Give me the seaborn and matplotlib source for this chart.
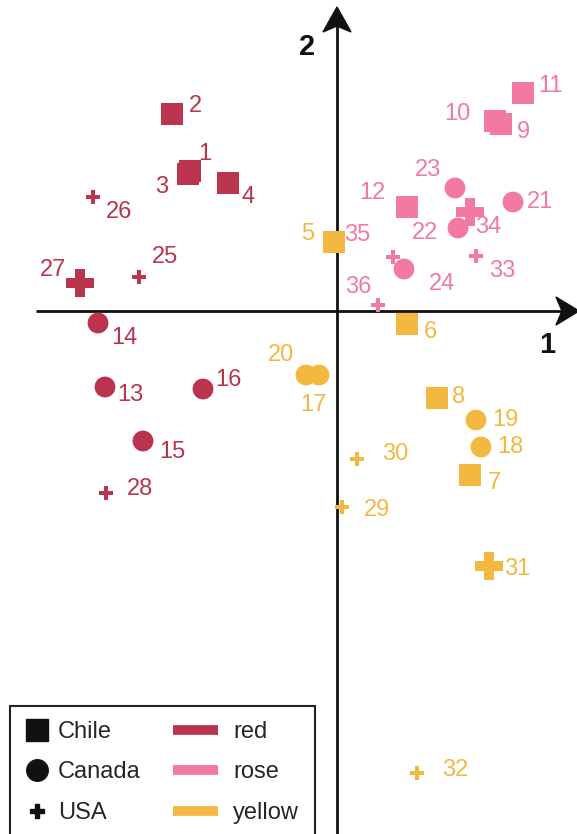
import matplotlib
matplotlib.use('Agg')
import matplotlib.pyplot as plt
from matplotlib.lines import Line2D
from matplotlib.patches import Polygon, Rectangle
import pandas as pd
import seaborn as sns

# wine samples on the first two components
ids = list(range(1, 37))
dim1 = [-1.47, -1.65, -1.49, -1.09, -0.03, 0.70, 1.33, 1.00, 1.64, 1.58, 1.86, 0.70,
        -2.32, -2.39, -1.94, -1.34, -0.18, 1.44, 1.39, -0.31, 1.76, 1.21, 1.18, 0.67,
        -1.98, -2.44, -2.57, -2.31, 0.05, 0.20, 1.52, 0.80, 1.39, 1.33, 0.56, 0.41]
dim2 = [1.40, 1.97, 1.37, 1.28, 0.69, -0.13, -1.64, -0.87, 1.87, 1.90, 2.18, 1.04,
        -0.76, -0.12, -1.30, -0.78, -0.64, -1.36, -1.09, -0.64, 1.09, 0.83, 1.23, 0.42,
        0.34, 1.14, 0.28, -1.82, -1.96, -1.48, -2.55, -4.62, 0.55, 0.99, 0.54, 0.06]
colour = (['red'] * 4 + ['yellow'] * 4 + ['rose'] * 4
          + ['red'] * 4 + ['yellow'] * 4 + ['rose'] * 4
          + ['red'] * 4 + ['yellow'] * 4 + ['rose'] * 4)
country = ['Chile'] * 12 + ['Canada'] * 12 + ['USA'] * 12
big_ids = [27, 31, 34]

df = pd.DataFrame({'id': ids, 'x': dim1, 'y': dim2, 'colour': colour, 'country': country})
df['big'] = df['id'].isin(big_ids)

palette = {'red': '#BA344E', 'rose': '#F279A2', 'yellow': '#F3B83F'}
markers = {'Chile': 's', 'Canada': 'o', 'USA': 'P'}
msize = {'Chile': 250, 'Canada': 225, 'USA': 90}

# label offsets in pixels (dx, dy)
offsets = {1: (15, 17), 2: (23, 8), 3: (-26, -13), 4: (20, -14), 5: (-26, 8), 6: (23, -8),
           7: (24, -8), 8: (22, 1), 9: (22, -8), 10: (-38, 7), 11: (27, 7), 12: (-35, 14),
           13: (25, -8), 14: (26, -15), 15: (29, -11), 16: (25, 9), 17: (-6, -30), 18: (29, 0),
           19: (29, 0), 20: (-25, 20), 21: (27, 0), 22: (-33, -5), 23: (-27, 18), 24: (38, -15),
           25: (26, 20), 26: (26, -15), 27: (-27, 13), 28: (34, 4), 29: (35, -3), 30: (38, 5),
           31: (28, -3), 32: (38, 3), 33: (26, -15), 34: (18, -15), 35: (-36, 22), 36: (-20, 18)}

sns.set_theme(style='white')
plt.rcParams['font.family'] = ['Liberation Sans', 'DejaVu Sans']

fig = plt.figure(figsize=(5.77, 8.34), dpi=100)
ax = fig.add_axes([0, 0, 1, 1])
ax.set_xlim(-3.37, 2.40)
ax.set_ylim(-5.23, 3.11)
ax.axis('off')

# axes through the origin
ax.hlines(0, -3.01, 2.25, color='#111111', lw=2, zorder=1)
ax.vlines(0, -5.3, 2.88, color='#111111', lw=2, zorder=1)
ax.add_patch(Polygon([(2.42, 0), (2.19, 0.14), (2.25, 0), (2.19, -0.14)],
                     closed=True, color='#111111', zorder=1))
ax.add_patch(Polygon([(0, 3.04), (-0.14, 2.79), (0, 2.85), (0.14, 2.79)],
                     closed=True, color='#111111', zorder=1))
ax.text(2.10, -0.34, '1', fontsize=21, fontweight='bold', color='#111111', ha='center', va='center')
ax.text(-0.30, 2.64, '2', fontsize=21, fontweight='bold', color='#111111', ha='center', va='center')

for c, m in markers.items():
    sub = df[(df['country'] == c) & ~df['big']]
    sns.scatterplot(data=sub, x='x', y='y', hue='colour', palette=palette, marker=m,
                    s=msize[c], linewidth=0, legend=False, ax=ax, zorder=3)
sns.scatterplot(data=df[df['big']], x='x', y='y', hue='colour', palette=palette, marker='P',
                s=420, linewidth=0, legend=False, ax=ax, zorder=3)
ax.set_xlim(-3.37, 2.40)
ax.set_ylim(-5.23, 3.11)

for _, r in df.iterrows():
    dx, dy = offsets[r['id']]
    ax.annotate(str(r['id']), (r['x'], r['y']), xytext=(dx, dy), textcoords='offset pixels',
                ha='center', va='center', fontsize=17, color=palette[r['colour']])

# legend box with two columns
fig.add_artist(Rectangle((10 / 577, -0.02), 305 / 577, (834 - 706) / 834 + 0.02,
                         transform=fig.transFigure, fill=False, edgecolor='#222222', lw=1.5))
h1 = [Line2D([], [], ls='', marker='s', color='#111111', markersize=15.5),
      Line2D([], [], ls='', marker='o', color='#111111', markersize=15.5),
      Line2D([], [], ls='', marker='P', color='#111111', markersize=9.5)]
leg1 = ax.legend(h1, ['Chile', 'Canada', 'USA'], loc='upper left', frameon=False,
                 bbox_to_anchor=(26 / 577, 1 - 721 / 834), bbox_transform=fig.transFigure,
                 borderpad=0, borderaxespad=0, handlelength=0.93, handletextpad=0.42,
                 labelspacing=0.78, fontsize=17)
ax.add_artist(leg1)
h2 = [Line2D([], [], color=palette[k], lw=7, solid_capstyle='butt') for k in ['red', 'rose', 'yellow']]
ax.legend(h2, ['red', 'rose', 'yellow'], loc='upper left', frameon=False,
          bbox_to_anchor=(173 / 577, 1 - 721 / 834), bbox_transform=fig.transFigure,
          borderpad=0, borderaxespad=0, handlelength=1.9, handletextpad=0.64,
          labelspacing=0.78, fontsize=17)

fig.savefig('out.png', dpi=100)
